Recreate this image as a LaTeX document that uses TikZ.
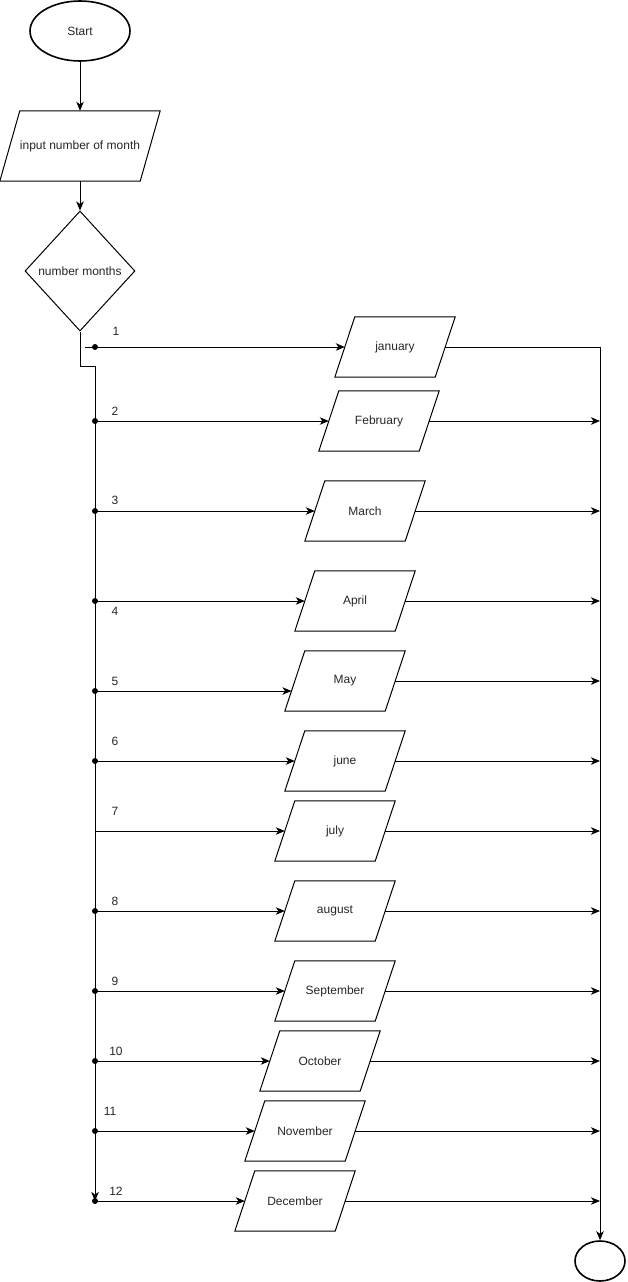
\documentclass[tikz,border=0pt]{standalone}
\usepackage{fontspec}
\setmainfont{Liberation Sans}
\usetikzlibrary{shapes.geometric,arrows.meta,calc}
\begin{document}
\begin{tikzpicture}[x=1pt,y=-1pt,
  every node/.style={font=\fontsize{12}{14}\selectfont, text=black!85},
  flow/.style={draw=black, line width=1pt},
  arr/.style={flow, -{Stealth[length=9pt,width=7.5pt,inset=2.5pt]}},
  term/.style={ellipse, draw=black, line width=1.6pt, inner sep=0pt},
  io/.style={rectangle, minimum width=100pt, minimum height=60pt, inner sep=0pt},
  inbox/.style={rectangle, minimum width=140pt, minimum height=70pt, inner sep=0pt},
  slant/.style={draw=black, line width=1pt, line join=miter},
  dec/.style={diamond, draw=black, line width=1pt, minimum width=110pt, minimum height=120pt, inner sep=0pt},
  lbl/.style={inner sep=0pt}
]
\useasboundingbox (0,0) rectangle (627,1282);

% main column
\node[term, minimum width=100pt, minimum height=60pt] (start) at (80,31) {Start};
\node[inbox] (input) at (80,146) {input number of month};
\draw[slant] ([xshift=10pt]input.north west) -- ([xshift=10pt]input.north east)
  -- ([xshift=-10pt]input.south east) -- ([xshift=-10pt]input.south west) -- cycle;
\node[dec] (dia) at (80,271) {number months};
\draw[arr] (start) -- (input);
\draw[arr] (input) -- (dia);

% month boxes (parallelograms drawn around each named node)
\foreach \n/\t/\x/\y in {jan/january/395/347, feb/February/379/421, mar/March/365/511,
  apr/April/355/601, may/May/345/681, jun/june/345/761, jul/july/335/831,
  aug/august/335/911, sep/September/335/991, oct/October/320/1061,
  nov/November/305/1131, dec/December/295/1201}{
  \node[io] (\n) at (\x,\y) {\t};
  \draw[slant] ([xshift=10pt]\n.north west) -- ([xshift=10pt]\n.north east)
    -- ([xshift=-10pt]\n.south east) -- ([xshift=-10pt]\n.south west) -- cycle;
}

% end terminal
\node[term, minimum width=50pt, minimum height=40pt] (stop) at (600,1261) {};

% left bus
\coordinate (bend) at (95,366);
\coordinate (s1) at (85,347);
\foreach \i/\y in {1/347,2/421,3/511,4/601,5/691,6/761,7/831,8/911,9/991,10/1061,11/1131,12/1201}
  \coordinate (d\i) at (95,\y);
\draw[arr] (dia.south) |- (bend) -- (d12);

% dots
\foreach \i in {1,2,3,4,5,6,8,9,10,11,12}
  \fill (d\i) circle (3pt);

% branches into month boxes
\draw[arr] (s1) -- (jan.west);
\draw[arr] (d2) -- (feb.west);
\draw[arr] (d3) -- (mar.west);
\draw[arr] (d4) -- (apr.west);
\draw[arr] (d5) -- ($(may.west)+(-3.33,10)$);
\draw[arr] (d6) -- (jun.west);
\draw[arr] (d7) -- (jul.west);
\draw[arr] (d8) -- (aug.west);
\draw[arr] (d9) -- (sep.west);
\draw[arr] (d10) -- (oct.west);
\draw[arr] (d11) -- (nov.west);
\draw[arr] (d12) -- (dec.west);

% branch labels
\foreach \i/\x/\y in {1/116/331,2/115/411,3/115/500,4/115/611,5/115/681,6/115/741,
  7/115/811,8/115/901,9/115/981,10/116/1051,11/110/1111,12/116/1191}
  \node[lbl] (l\i) at (\x,\y) {\i};

% right bus
\foreach \n/\y in {jan/347,feb/421,mar/511,apr/601,may/681,jun/761,jul/831,aug/911,sep/991,oct/1061,nov/1131,dec/1201}
  \coordinate (r\n) at (600,\y);
\draw[flow] (jan.east) -- (rjan);
\draw[arr] (rjan) -- (stop);
\foreach \n in {feb,mar,apr,may,jun,jul,aug,sep,oct,nov,dec}
  \draw[arr] (\n.east) -- (r\n);
\end{tikzpicture}
\end{document}
